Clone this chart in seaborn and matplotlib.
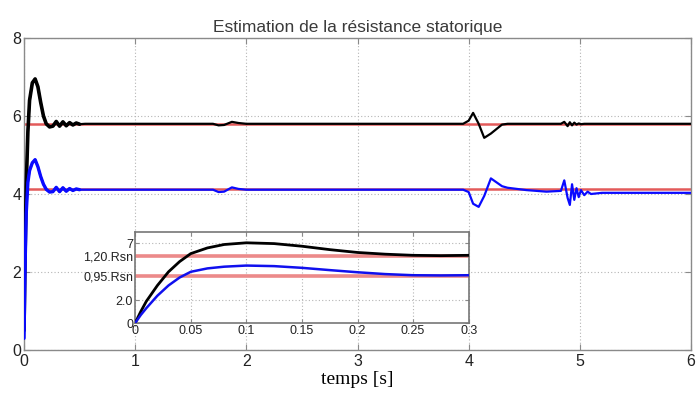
import numpy as np
import pandas as pd
import matplotlib
matplotlib.use("Agg")
import matplotlib.pyplot as plt
import seaborn as sns

# ---------------- data ----------------
t_main = [0.0, 0.01, 0.02, 0.035, 0.05, 0.075, 0.1, 0.125, 0.15, 0.175, 0.2, 0.23, 0.26,
          0.29, 0.32, 0.35, 0.38, 0.41, 0.44, 0.47, 0.5, 0.55, 1.7, 1.75, 1.8, 1.87, 1.93,
          2.0, 3.95, 4.0, 4.04, 4.09, 4.14, 4.2, 4.3, 4.35, 4.52, 4.7, 4.83, 4.86, 4.89,
          4.91, 4.93, 4.95, 4.97, 4.99, 5.01, 5.04, 5.07, 5.1, 5.2, 6.0]
black_main = [0.5, 2.5, 4.2, 5.6, 6.4, 6.85, 6.95, 6.75, 6.35, 6.0, 5.8, 5.72, 5.74,
              5.86, 5.74, 5.85, 5.75, 5.83, 5.77, 5.82, 5.79, 5.8, 5.8, 5.76, 5.77, 5.85, 5.82,
              5.8, 5.8, 5.88, 6.08, 5.8, 5.44, 5.55, 5.78, 5.8, 5.8, 5.8, 5.8, 5.85, 5.74,
              5.84, 5.76, 5.83, 5.78, 5.81, 5.79, 5.8, 5.8, 5.8, 5.8, 5.8]
blue_main = [0.3, 2.2, 3.5, 4.3, 4.6, 4.8, 4.88, 4.7, 4.45, 4.25, 4.12, 4.05, 4.06,
             4.17, 4.06, 4.16, 4.07, 4.14, 4.09, 4.13, 4.11, 4.11, 4.11, 4.05, 4.06, 4.17, 4.13,
             4.11, 4.11, 4.05, 3.75, 3.67, 3.95, 4.40, 4.2, 4.16, 4.1, 4.06, 4.08, 4.35, 3.9,
             3.72, 4.25, 3.85, 4.15, 3.92, 4.1, 3.97, 4.06, 4.0, 4.03, 4.03]
ref_main = [5.8, 4.12]

t_inset = [0.0, 0.005, 0.01, 0.02, 0.03, 0.04, 0.05, 0.065, 0.08, 0.1, 0.125, 0.15,
           0.175, 0.2, 0.225, 0.25, 0.275, 0.3]
black_inset = [0.0, 1.0, 1.9, 3.3, 4.5, 5.4, 6.1, 6.6, 6.9, 7.05, 6.98, 6.75,
               6.45, 6.2, 6.05, 5.95, 5.92, 5.95]
blue_inset = [0.0, 0.7, 1.3, 2.4, 3.3, 4.0, 4.5, 4.8, 4.95, 5.05, 5.0, 4.85,
              4.65, 4.46, 4.3, 4.2, 4.18, 4.2]
ref_inset = [5.93, 4.17]

main_xticks = [0, 1, 2, 3, 4, 5, 6]
main_yticks = [0, 2, 4, 6, 8]
inset_xticks = [0, 0.05, 0.1, 0.15, 0.2, 0.25, 0.3]
inset_xlabels = ["0", "0.05", "0.1", "0.15", "0.2", "0.25", "0.3"]
inset_yticks = [0, 2, 4.17, 5.93, 7]
inset_ylabels = ["0", "2.0", "0,95.Rsn", "1,20.Rsn", "7"]

title = "Estimation de la résistance statorique"
xlabel = "temps [s]"

# ---------------- style ----------------
sns.set_theme(style="white")
plt.rcParams["font.family"] = ["Liberation Sans", "DejaVu Sans"]

W, H = 697, 394
fig = plt.figure(figsize=(W / 100, H / 100), dpi=100)
fig.patch.set_facecolor("white")

spine_c = "#8a8a8a"
grid_c = "#b5b5b5"
red_c = "#e35a5a"
red_in = "#ec8a8a"

def style_axes(ax):
    for s in ax.spines.values():
        s.set_color(spine_c)
        s.set_linewidth(1.0)
    ax.tick_params(direction="in", length=4, width=0.8, color=spine_c,
                   top=True, right=True, bottom=True, left=True)
    ax.grid(True, linestyle=(0, (1, 2)), color=grid_c, linewidth=0.8)
    ax.set_axisbelow(True)

# main axes
x0, x6 = 24, 691
ax = fig.add_axes([x0 / W, 1 - 350 / H, (x6 - x0) / W, (350 - 38) / H])
style_axes(ax)
df_main = pd.DataFrame({"t": t_main, "black": black_main, "blue": blue_main})
df_early = df_main[df_main["t"] <= 0.5]
for r in ref_main:
    ax.axhline(r, color=red_c, linewidth=1.8, zorder=1)
sns.lineplot(data=df_main, x="t", y="black", ax=ax, color="black", linewidth=1.6,
             estimator=None, sort=False, zorder=3)
sns.lineplot(data=df_early, x="t", y="black", ax=ax, color="black", linewidth=2.6,
             estimator=None, sort=False, zorder=3)
sns.lineplot(data=df_main, x="t", y="blue", ax=ax, color="#0a0aff", linewidth=1.6,
             estimator=None, sort=False, zorder=3)
sns.lineplot(data=df_early, x="t", y="blue", ax=ax, color="#0a0aff", linewidth=2.4,
             estimator=None, sort=False, zorder=3)
ax.set_xlim(0, 6)
ax.set_ylim(0, 8)
ax.set_xticks(main_xticks)
ax.set_yticks(main_yticks)
ax.set_xticklabels([str(v) for v in main_xticks], fontsize=11.5)
ax.set_yticklabels([str(v) for v in main_yticks], fontsize=11.5)
ax.tick_params(axis="x", pad=3, labelcolor="#222222")
ax.tick_params(axis="y", pad=2, labelcolor="#222222")
ax.set_xlabel(xlabel, fontsize=14, family=["Liberation Serif", "DejaVu Serif"],
              color="black", labelpad=1)
ax.set_ylabel("")
ax.set_title(title, fontsize=12.5, color="#3a3a3a", pad=4)

# inset axes
ix0 = x0 + (x6 - x0) / 6 * 1
ix1 = x0 + (x6 - x0) / 6 * 4
axi = fig.add_axes([ix0 / W, 1 - 323 / H, (ix1 - ix0) / W, (323 - 232) / H])
axi.set_facecolor("white")
style_axes(axi)
for s in axi.spines.values():
    s.set_linewidth(1.2)
    s.set_color("#777777")
axi.tick_params(length=3)
df_in = pd.DataFrame({"t": t_inset, "black": black_inset, "blue": blue_inset})
for r in ref_inset:
    axi.axhline(r, color=red_in, linewidth=2.6, zorder=1)
sns.lineplot(data=df_in, x="t", y="black", ax=axi, color="black", linewidth=2.0,
             estimator=None, sort=False, zorder=3)
sns.lineplot(data=df_in, x="t", y="blue", ax=axi, color="#1010ee", linewidth=1.8,
             estimator=None, sort=False, zorder=3)
axi.set_xlim(0, 0.3)
axi.set_ylim(0, 8)
axi.set_xticks(inset_xticks)
axi.set_xticklabels(inset_xlabels, fontsize=9)
axi.set_yticks(inset_yticks)
axi.set_yticklabels(inset_ylabels, fontsize=9)
axi.tick_params(axis="both", pad=1.5, labelcolor="#222222")
axi.set_xlabel("")
axi.set_ylabel("")

fig.savefig("out.png", dpi=100, facecolor="white")
